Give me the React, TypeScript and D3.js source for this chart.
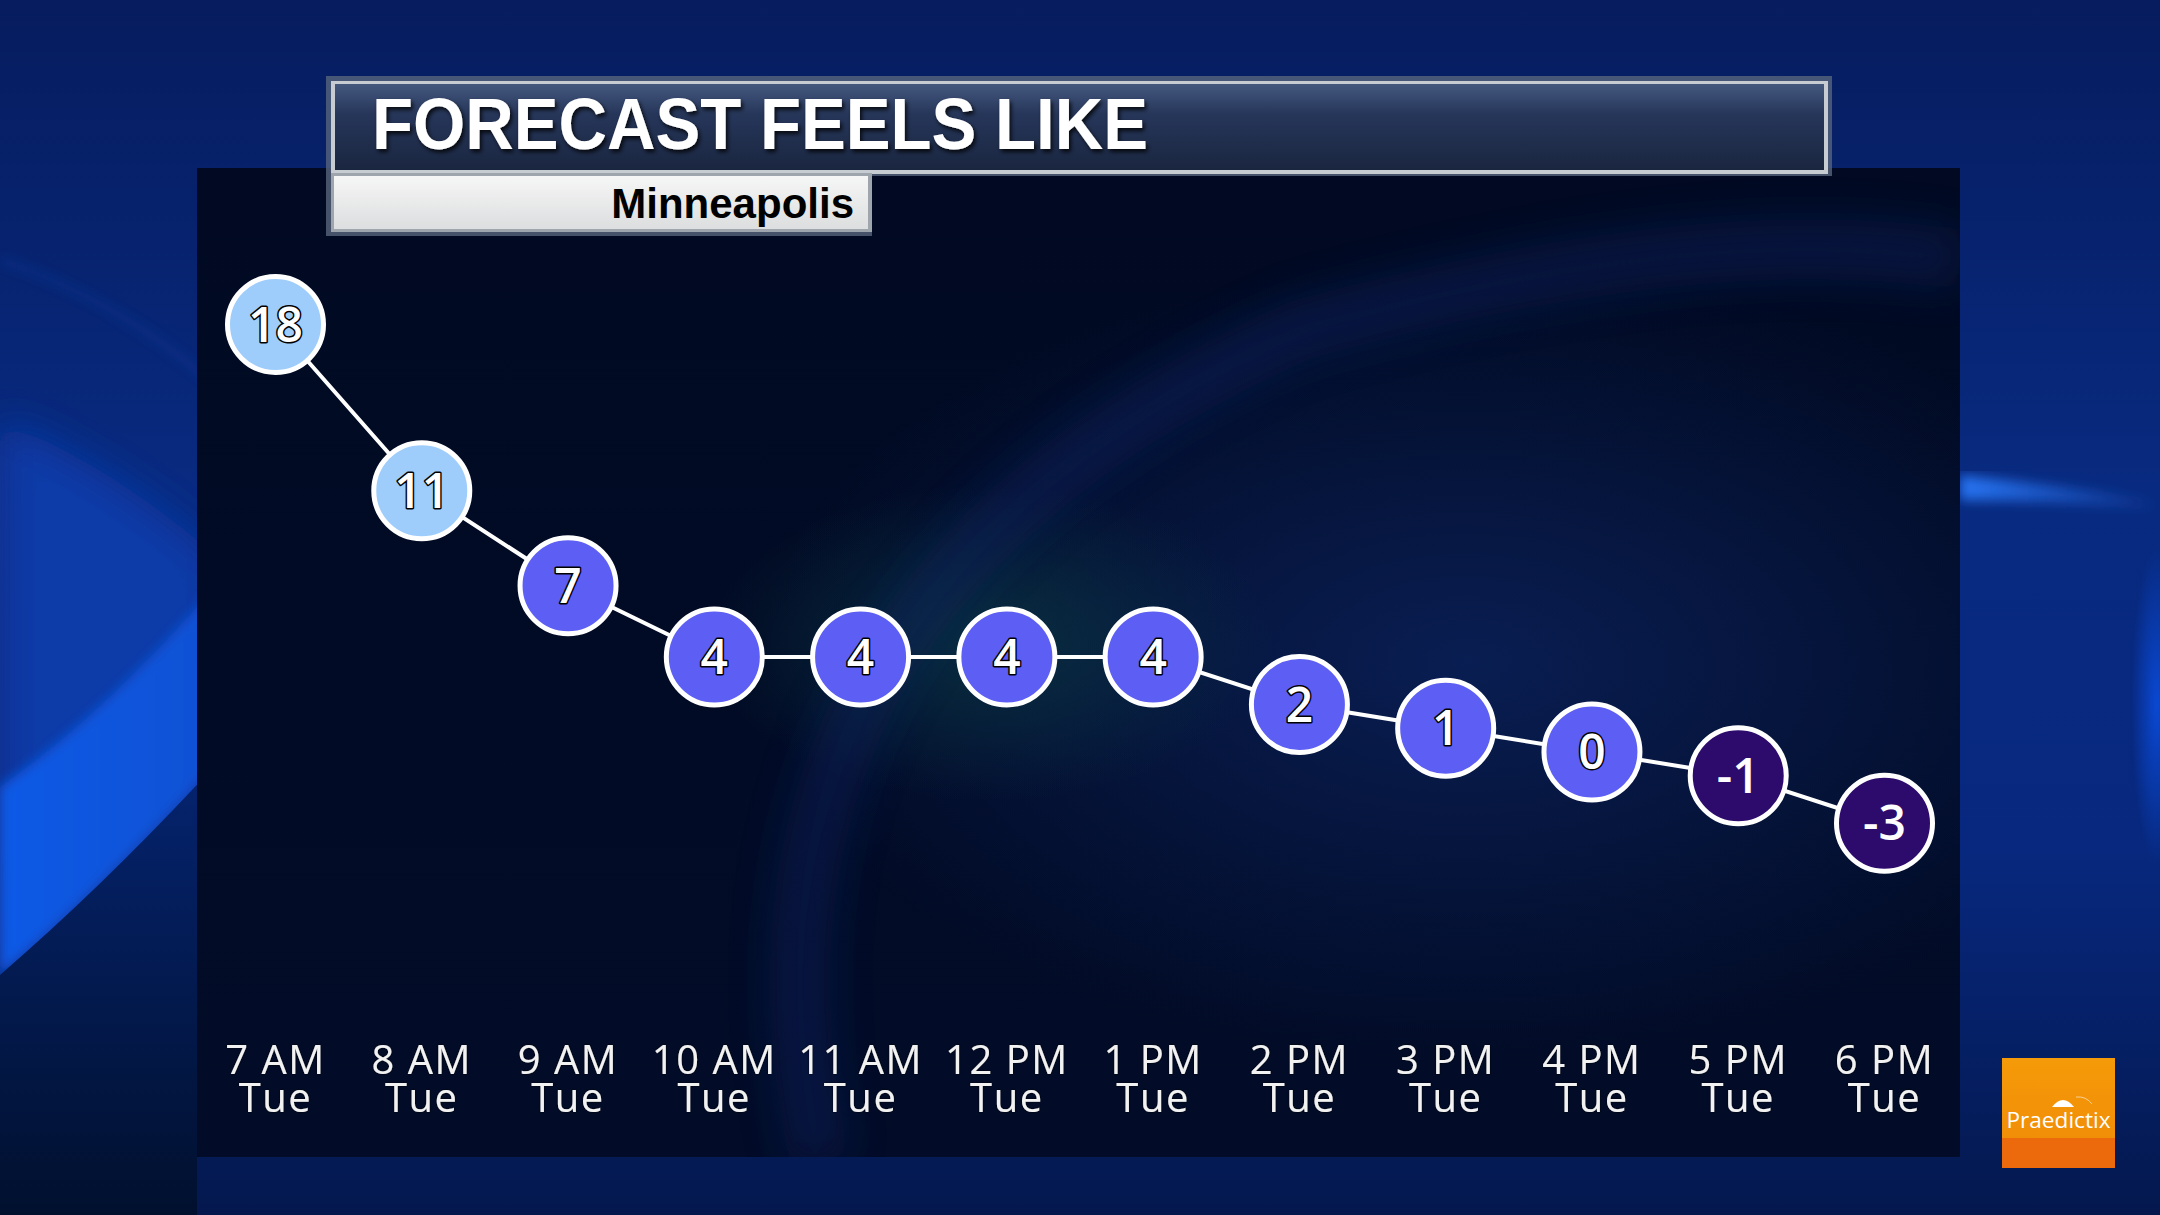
import React from "react";
import * as d3 from "d3";

const hours = ["7 AM", "8 AM", "9 AM", "10 AM", "11 AM", "12 PM", "1 PM", "2 PM", "3 PM", "4 PM", "5 PM", "6 PM"];
const days = ["Tue", "Tue", "Tue", "Tue", "Tue", "Tue", "Tue", "Tue", "Tue", "Tue", "Tue", "Tue"];
const feelsLike = [18, 11, 7, 4, 4, 4, 4, 2, 1, 0, -1, -3];
const colorBreaks = [0, 10];
const colorSteps = ["#2d0b6c", "#5d5ef3", "#9fcdfb"];
const titleText = "FORECAST FEELS LIKE";
const locationText = "Minneapolis";
const brandText = "Praedictix";

const W = 2160;
const H = 1215;

export default function App() {
  React.useEffect(() => {
    document.body.style.margin = "0";
  }, []);

  const x = d3.scalePoint<string>().domain(hours).range([275.5, 1884.5]);
  const y = d3.scaleLinear().domain([-3, 18]).range([823.25, 324.5]);
  const color = d3.scaleThreshold<number, string>().domain(colorBreaks).range(colorSteps);
  const pts = feelsLike.map((v, i) => ({ v, h: hours[i], d: days[i] }));
  const line = d3
    .line<{ v: number; h: string }>()
    .x((d) => x(d.h) as number)
    .y((d) => y(d.v));

  const labelFont = "'Open Sans', 'Noto Sans', sans-serif";

  return (
    <svg width={W} height={H} style={{ position: "absolute", left: 0, top: 0, display: "block" }}>
      <defs>
        <linearGradient id="bgBase" x1="0" y1="0" x2="0" y2="1">
          <stop offset="0" stopColor="#061c5e" />
          <stop offset="0.4" stopColor="#082a80" />
          <stop offset="0.7" stopColor="#07287e" />
          <stop offset="1" stopColor="#04184e" />
        </linearGradient>
        <radialGradient id="glowRight" cx="0.985" cy="0.58" r="0.13">
          <stop offset="0" stopColor="#0a4ad8" stopOpacity="0.95" />
          <stop offset="1" stopColor="#0a4ad8" stopOpacity="0" />
        </radialGradient>
        <linearGradient id="streak" x1="0" y1="0" x2="1" y2="0">
          <stop offset="0" stopColor="#2a7cff" stopOpacity="0.9" />
          <stop offset="1" stopColor="#2a7cff" stopOpacity="0" />
        </linearGradient>
        <linearGradient id="leftBand" x1="0" y1="0" x2="1" y2="0">
          <stop offset="0" stopColor="#0a5ae6" />
          <stop offset="1" stopColor="#0a5ae6" stopOpacity="0.7" />
        </linearGradient>
        <linearGradient id="leftLower" x1="0" y1="0" x2="0" y2="1">
          <stop offset="0" stopColor="#052470" />
          <stop offset="1" stopColor="#01102e" />
        </linearGradient>
        <linearGradient id="panelBase" x1="0" y1="0" x2="0" y2="1">
          <stop offset="0" stopColor="#010a22" />
          <stop offset="1" stopColor="#020c28" />
        </linearGradient>
        <radialGradient id="panelGlowGreen" cx="0.45" cy="0.48" r="0.16">
          <stop offset="0" stopColor="#0b3a45" stopOpacity="0.7" />
          <stop offset="1" stopColor="#0b3a45" stopOpacity="0" />
        </radialGradient>
        <radialGradient id="panelGlowBlue" cx="0.72" cy="0.5" r="0.4">
          <stop offset="0" stopColor="#0e2a70" stopOpacity="0.6" />
          <stop offset="1" stopColor="#0e2a70" stopOpacity="0" />
        </radialGradient>
        <linearGradient id="titleGrad" x1="0" y1="0" x2="0" y2="1">
          <stop offset="0" stopColor="#44587e" />
          <stop offset="0.35" stopColor="#26365a" />
          <stop offset="1" stopColor="#1a2640" />
        </linearGradient>
        <linearGradient id="subGrad" x1="0" y1="0" x2="0" y2="1">
          <stop offset="0" stopColor="#f6f6f6" />
          <stop offset="1" stopColor="#dcdedf" />
        </linearGradient>
        <linearGradient id="logoGrad" x1="0" y1="0" x2="0" y2="1">
          <stop offset="0" stopColor="#f59a08" />
          <stop offset="1" stopColor="#f08a08" />
        </linearGradient>
        <filter id="txtShadow" x="-5%" y="-20%" width="110%" height="140%">
          <feDropShadow dx="2" dy="3" stdDeviation="2" floodColor="#000" floodOpacity="0.8" />
        </filter>
        <filter id="lblShadow" x="-10%" y="-10%" width="120%" height="120%">
          <feDropShadow dx="0" dy="0" stdDeviation="1" floodColor="#000" floodOpacity="0.9" />
        </filter>
        <filter id="blur20">
          <feGaussianBlur stdDeviation="20" />
        </filter>
        <filter id="blur6">
          <feGaussianBlur stdDeviation="6" />
        </filter>
        <filter id="blur40">
          <feGaussianBlur stdDeviation="40" />
        </filter>
        <clipPath id="panelClip">
          <rect x={197} y={168} width={1763} height={989} />
        </clipPath>
        <clipPath id="leftClip">
          <rect x={0} y={0} width={197} height={H} />
        </clipPath>
      </defs>

      {/* Background */}
      <rect x={0} y={0} width={W} height={H} fill="url(#bgBase)" />
      <g clipPath="url(#leftClip)">
        <path d="M 0 420 Q 120 470 220 560 L 220 1215 L 0 1215 Z" fill="#0a3aa8" filter="url(#blur20)" />
        <path d="M 0 787 Q 110 710 220 580 L 220 760 Q 110 880 0 975 Z" fill="url(#leftBand)" filter="url(#blur6)" />
        <path d="M 0 975 Q 110 880 220 760 L 220 1215 L 0 1215 Z" fill="url(#leftLower)" />
        <path d="M 0 260 Q 120 300 220 390" stroke="#1a4ac0" strokeWidth={3} fill="none" opacity={0.5} filter="url(#blur6)" />
      </g>
      <rect x={1960} y={0} width={200} height={H} fill="url(#glowRight)" />
      <path d="M 1960 475 Q 2060 485 2160 500 L 2160 512 Q 2060 500 1960 500 Z" fill="url(#streak)" filter="url(#blur6)" />

      {/* Panel */}
      <rect x={197} y={168} width={1763} height={989} fill="url(#panelBase)" />
      <g clipPath="url(#panelClip)">
        <rect x={197} y={168} width={1763} height={989} fill="url(#panelGlowBlue)" />
        <rect x={197} y={168} width={1763} height={989} fill="url(#panelGlowGreen)" />
        <path
          d="M 820 1160 Q 700 600 1300 330 Q 1700 220 1960 260"
          stroke="#0b2260"
          strokeWidth={60}
          fill="none"
          opacity={0.45}
          filter="url(#blur20)"
        />
      </g>

      {/* Title box */}
      <path d="M 326 76 H 1832 V 176 H 872 V 236 H 326 Z" fill="#56647c" opacity={0.8} />
      <rect x={331} y={81} width={1497} height={93} fill="#c7ccd2" />
      <rect x={335} y={84} width={1489} height={86} fill="url(#titleGrad)" />
      <rect x={331} y={173} width={541} height={59} fill="#9ea5ad" />
      <rect x={334} y={176} width={534} height={53} fill="url(#subGrad)" />
      <text
        x={372}
        y={149}
        fill="#ffffff"
        fontFamily="'Liberation Sans', Arial, sans-serif"
        fontWeight={700}
        fontSize={72}
        textLength={776}
        lengthAdjust="spacingAndGlyphs"
        filter="url(#txtShadow)"
      >
        {titleText}
      </text>
      <text
        x={854}
        y={218}
        textAnchor="end"
        fill="#000000"
        fontFamily="'Liberation Sans', Arial, sans-serif"
        fontWeight={700}
        fontSize={42}
      >
        {locationText}
      </text>

      {/* Line */}
      <path d={line(pts) || ""} stroke="#ffffff" strokeWidth={4} fill="none" />

      {/* Points */}
      {pts.map((p, i) => (
        <g key={i} transform={`translate(${x(p.h)},${y(p.v)})`}>
          <circle r={48} fill={color(p.v)} stroke="#ffffff" strokeWidth={5} />
          <text
            y={17}
            textAnchor="middle"
            fontFamily={labelFont}
            fontWeight={600}
            fontSize={48}
            fill="#ffffff"
            stroke="#000000"
            strokeWidth={p.v < 0 ? 0 : 3}
            paintOrder="stroke"
            strokeLinejoin="round"
          >
            {p.v}
          </text>
        </g>
      ))}

      {/* X labels */}
      {pts.map((p, i) => (
        <text
          key={`l${i}`}
          fontFamily={labelFont}
          fontSize={40}
          fill="#f2f2f2"
          textAnchor="middle"
          letterSpacing={1.5}
          filter="url(#lblShadow)"
        >
          <tspan x={x(p.h)} y={1074}>
            {p.h}
          </tspan>
          <tspan x={x(p.h)} y={1112}>
            {p.d}
          </tspan>
        </text>
      ))}

      {/* Logo */}
      <rect x={2002} y={1058} width={113} height={110} fill="url(#logoGrad)" />
      <rect x={2002} y={1138} width={113} height={30} fill="#ec6a0c" />
      <path d="M 2052 1107 Q 2063 1093 2074 1107 Z" fill="#ffffff" />
      <path d="M 2076 1097 Q 2086 1096 2092 1104" stroke="#ffffff" strokeWidth={0.8} fill="none" opacity={0.7} />
      <text
        x={2058.5}
        y={1128}
        textAnchor="middle"
        fill="#ffffff"
        fontFamily="'Open Sans', sans-serif"
        fontSize={22}
        textLength={104}
        lengthAdjust="spacingAndGlyphs"
      >
        {brandText}
      </text>
    </svg>
  );
}
